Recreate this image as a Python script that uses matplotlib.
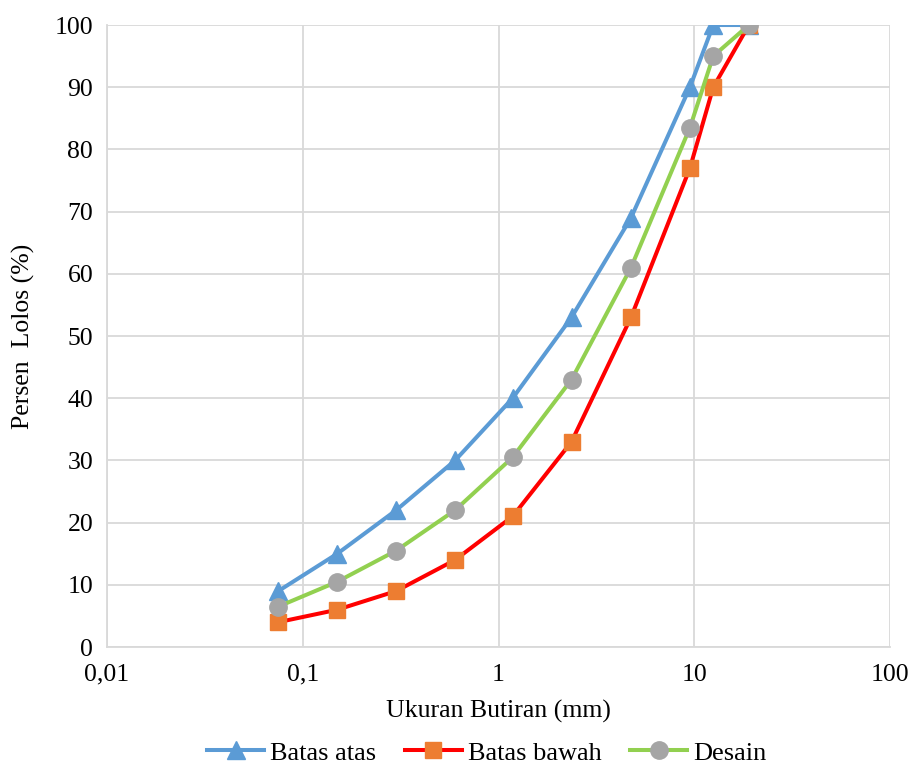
import matplotlib
matplotlib.use("Agg")
import matplotlib.pyplot as plt
from matplotlib.ticker import FixedLocator, FixedFormatter, NullLocator

plt.rcParams['font.family'] = ['Liberation Serif', 'DejaVu Serif']

sizes = [0.075, 0.15, 0.3, 0.6, 1.18, 2.36, 4.75, 9.5, 12.5, 19]
batas_atas = [9, 15, 22, 30, 40, 53, 69, 90, 100, 100]
batas_bawah = [4, 6, 9, 14, 21, 33, 53, 77, 90, 100]
desain = [6.5, 10.5, 15.5, 22, 30.5, 43, 61, 83.5, 95, 100]

x_ticks = [0.01, 0.1, 1, 10, 100]
x_labels = ['0,01', '0,1', '1', '10', '100']
y_ticks = list(range(0, 101, 10))

fig = plt.figure(figsize=(9.17, 7.65), dpi=100)
ax = fig.add_axes([0.1167, 0.1542, 0.8539, 0.8131])

lw = 2.9
ax.plot(sizes, batas_atas, color='#5B9BD5', lw=lw, marker='^', ms=13,
        mfc='#5B9BD5', mec='#5B9BD5', label='Batas atas', zorder=3)
ax.plot(sizes, batas_bawah, color='#FF0000', lw=lw, marker='s', ms=11.5,
        mfc='#ED7D31', mec='#ED7D31', label='Batas bawah', zorder=3)
ax.plot(sizes, desain, color='#92D050', lw=lw, marker='o', ms=12.5,
        mfc='#A5A5A5', mec='#A5A5A5', label='Desain', zorder=4)

ax.set_xscale('log')
ax.set_xlim(0.01, 100)
ax.set_ylim(0, 100)
ax.xaxis.set_major_locator(FixedLocator(x_ticks))
ax.xaxis.set_major_formatter(FixedFormatter(x_labels))
ax.xaxis.set_minor_locator(NullLocator())
ax.set_yticks(y_ticks)

ax.grid(True, color='#D9D9D9', lw=1.3)
ax.set_axisbelow(True)
for s in ['top', 'right']:
    ax.spines[s].set_visible(False)
for s in ['left', 'bottom']:
    ax.spines[s].set_color('#D9D9D9')
    ax.spines[s].set_linewidth(1.3)
ax.tick_params(length=0, labelsize=18.5, pad=10)
ax.tick_params(axis='x', pad=12)

ax.set_xlabel('Ukuran Butiran (mm)', fontsize=18.5, labelpad=10)
ax.set_ylabel('Persen  Lolos (%)', fontsize=18.5, labelpad=14)

ax.legend(loc='upper center', bbox_to_anchor=(0.485, -0.13), ncol=3, frameon=False,
          fontsize=19, handlelength=2.15, handletextpad=0.22, columnspacing=1.1,
          borderpad=0)

fig.savefig('out.png', dpi=100)
